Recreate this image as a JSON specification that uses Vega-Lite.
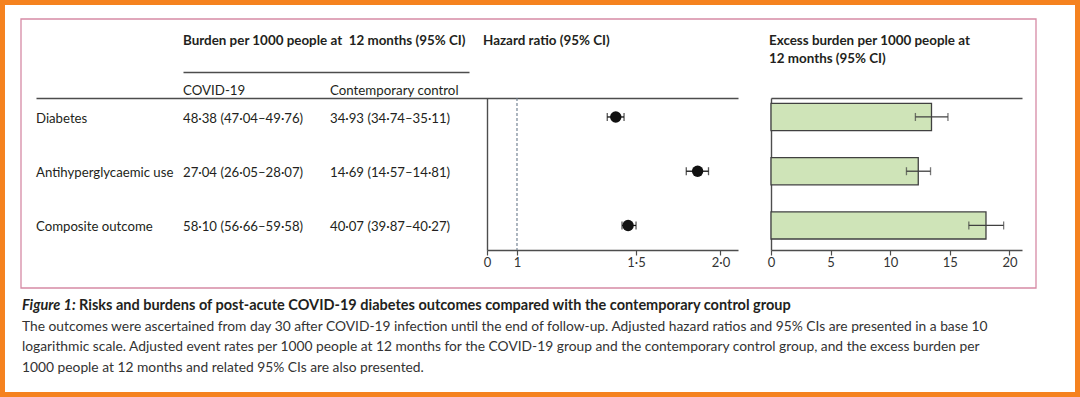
{
  "$schema": "https://vega.github.io/schema/vega-lite/v6.json",
  "width": 1080,
  "height": 397,
  "autosize": {"type": "none"},
  "padding": 0,
  "background": "white",
  "config": {
    "view": {"stroke": "#F5821F", "strokeWidth": 10, "fill": "white"},
    "font": "Lato",
    "text": {"font": "Lato", "color": "#231f20", "baseline": "alphabetic", "align": "left"},
    "axis": {"title": null, "grid": false, "domainColor": "#4d4d4d", "domainWidth": 1.4, "tickColor": "#4d4d4d", "tickWidth": 1.2, "tickSize": 5, "labelFont": "Lato", "labelFontSize": 13, "labelColor": "#333333", "labelFlush": false, "labelOverlap": false, "labelPadding": 1}
  },
  "datasets": {
    "outcomes": [
      {"outcome": "Diabetes", "covid": "48·38 (47·04–49·76)", "control": "34·93 (34·74–35·11)", "hr": 1.40, "hr_lo": 1.36, "hr_hi": 1.44, "excess": 13.46, "ex_lo": 12.11, "ex_hi": 14.84},
      {"outcome": "Antihyperglycaemic use", "covid": "27·04 (26·05–28·07)", "control": "14·69 (14·57–14·81)", "hr": 1.85, "hr_lo": 1.78, "hr_hi": 1.92, "excess": 12.35, "ex_lo": 11.36, "ex_hi": 13.38},
      {"outcome": "Composite outcome", "covid": "58·10 (56·66–59·58)", "control": "40·07 (39·87–40·27)", "hr": 1.46, "hr_lo": 1.43, "hr_hi": 1.50, "excess": 18.03, "ex_lo": 16.59, "ex_hi": 19.51}
    ]
  },
  "layer": [
    {
      "data": {"values": [{"frame": "figure"}]},
      "mark": {"type": "rect", "fillOpacity": 0, "stroke": "#D68AA5", "strokeWidth": 1.3},
      "encoding": {
        "x": {"datum": 0, "type": "quantitative", "scale": {"domain": [0, 1], "range": [21, 1036]}, "axis": null},
        "x2": {"datum": 1},
        "y": {"datum": 0, "type": "quantitative", "scale": {"domain": [0, 1], "range": [19, 288]}, "axis": null},
        "y2": {"datum": 1}
      }
    },
    {
      "data": {"name": "outcomes"},
      "transform": [{"fold": ["outcome"], "as": ["column", "text"]}],
      "mark": {"type": "text", "fontSize": 13.2, "dy": 6},
      "encoding": {
        "x": {"field": "column", "type": "nominal", "bandPosition": 0,
              "scale": {"type": "band", "domain": ["outcome"], "range": [36, 738], "paddingInner": 0, "paddingOuter": 0, "align": 0},
              "axis": {"orient": "top", "offset": -98, "ticks": false, "labels": false, "domain": true}},
        "y": {"field": "outcome", "type": "nominal",
              "scale": {"type": "band", "domain": ["Diabetes", "Antihyperglycaemic use", "Composite outcome"], "range": [98, 250], "paddingInner": 0.5, "paddingOuter": 0.151, "align": 0.33},
              "axis": null},
        "text": {"field": "text"}
      }
    },
    {
      "data": {"name": "outcomes"},
      "transform": [{"fold": ["covid", "control"], "as": ["column", "text"]}],
      "mark": {"type": "text", "fontSize": 13.2, "dy": 6},
      "encoding": {
        "x": {"field": "column", "type": "nominal", "bandPosition": 0,
              "scale": {"type": "band", "domain": ["covid", "control"], "range": [183, 469], "paddingInner": 0.0544, "paddingOuter": 0, "align": 0},
              "axis": null},
        "y": {"field": "outcome", "type": "nominal",
              "scale": {"type": "band", "domain": ["Diabetes", "Antihyperglycaemic use", "Composite outcome"], "range": [98, 250], "paddingInner": 0.5, "paddingOuter": 0.151, "align": 0.33},
              "axis": null},
        "text": {"field": "text"}
      }
    },
    {
      "data": {"values": [{"column": "covid", "line": "sub", "text": "COVID-19"}, {"column": "control", "line": "sub", "text": "Contemporary control"}]},
      "mark": {"type": "text", "fontSize": 13.3},
      "encoding": {
        "x": {"field": "column", "type": "nominal", "bandPosition": 0,
              "scale": {"type": "band", "domain": ["covid", "control"], "range": [183, 469], "paddingInner": 0.0544, "paddingOuter": 0, "align": 0},
              "axis": {"orient": "top", "offset": -72, "ticks": false, "labels": false, "domain": true}},
        "y": {"field": "line", "type": "nominal", "scale": {"type": "point", "domain": ["head", "sub"], "range": [45, 94.5], "padding": 0}, "axis": null},
        "text": {"field": "text"}
      }
    },
    {
      "data": {"values": [{"column": "covid", "line": "head", "text": "Burden per 1000 people at\u00a0 12 months (95% CI)"}]},
      "mark": {"type": "text", "fontSize": 13.4, "fontWeight": "bold"},
      "encoding": {
        "x": {"field": "column", "type": "nominal", "bandPosition": 0,
              "scale": {"type": "band", "domain": ["covid", "control"], "range": [183, 469], "paddingInner": 0.0544, "paddingOuter": 0, "align": 0},
              "axis": null},
        "y": {"field": "line", "type": "nominal", "scale": {"type": "point", "domain": ["head", "sub"], "range": [45, 94.5], "padding": 0}, "axis": null},
        "text": {"field": "text"}
      }
    },
    {
      "data": {"values": [{"panel": "hr", "line": "head", "text": "Hazard ratio (95% CI)"}, {"panel": "excess", "line": "head", "text": "Excess burden per 1000 people at\n12 months (95% CI)"}]},
      "mark": {"type": "text", "fontSize": 13.4, "fontWeight": "bold", "lineBreak": "\n", "lineHeight": 18},
      "encoding": {
        "x": {"field": "panel", "type": "nominal", "scale": {"type": "point", "domain": ["hr", "excess"], "range": [483, 769], "padding": 0}, "axis": null},
        "y": {"field": "line", "type": "nominal", "scale": {"type": "point", "domain": ["head", "sub"], "range": [45, 94.5], "padding": 0}, "axis": null},
        "text": {"field": "text"}
      }
    },
    {
      "data": {"values": [{"reference": "no effect"}]},
      "mark": {"type": "rule", "color": "#6a7b8c", "strokeWidth": 1.1, "strokeDash": [3, 2]},
      "encoding": {
        "x": {"datum": 1, "type": "quantitative", "scale": {"type": "log", "domain": [0.9029, 2.1229], "range": [487, 738], "nice": false}, "axis": null},
        "y": {"datum": 0, "type": "quantitative", "scale": {"domain": [0, 1], "range": [98, 250]}, "axis": null},
        "y2": {"datum": 1}
      }
    },
    {
      "data": {"name": "outcomes"},
      "mark": {"type": "rule", "color": "#111111", "strokeWidth": 1.3},
      "encoding": {
        "x": {"field": "hr_lo", "type": "quantitative", "scale": {"type": "log", "domain": [0.9029, 2.1229], "range": [487, 738], "nice": false}, "axis": null},
        "x2": {"field": "hr_hi"},
        "y": {"field": "outcome", "type": "nominal",
              "scale": {"type": "band", "domain": ["Diabetes", "Antihyperglycaemic use", "Composite outcome"], "range": [98, 250], "paddingInner": 0.5, "paddingOuter": 0.151, "align": 0.33},
              "axis": null}
      }
    },
    {
      "data": {"name": "outcomes"},
      "transform": [{"fold": ["hr_lo", "hr_hi"], "as": ["bound", "value"]}],
      "mark": {"type": "tick", "color": "#111111", "thickness": 1.3, "size": 8},
      "encoding": {
        "x": {"field": "value", "type": "quantitative", "scale": {"type": "log", "domain": [0.9029, 2.1229], "range": [487, 738], "nice": false}, "axis": null},
        "y": {"field": "outcome", "type": "nominal",
              "scale": {"type": "band", "domain": ["Diabetes", "Antihyperglycaemic use", "Composite outcome"], "range": [98, 250], "paddingInner": 0.5, "paddingOuter": 0.151, "align": 0.33},
              "axis": null}
      }
    },
    {
      "data": {"name": "outcomes"},
      "mark": {"type": "circle", "color": "#111111", "opacity": 1, "size": 130},
      "encoding": {
        "x": {"field": "hr", "type": "quantitative", "scale": {"type": "log", "domain": [0.9029, 2.1229], "range": [487, 738], "nice": false},
              "axis": {"orient": "bottom", "offset": -147, "values": [0.9029, 1, 1.5, 2], "labelExpr": "datum.value < 0.95 ? '0' : (datum.value == 1 ? '1' : replace(format(datum.value, '.1f'), '.', '·'))"}},
        "y": {"field": "outcome", "type": "nominal",
              "scale": {"type": "band", "domain": ["Diabetes", "Antihyperglycaemic use", "Composite outcome"], "range": [98, 250], "paddingInner": 0.5, "paddingOuter": 0.151, "align": 0.33},
              "axis": {"orient": "left", "offset": -487, "ticks": false, "labels": false, "domain": true}}
      }
    },
    {
      "data": {"name": "outcomes"},
      "mark": {"type": "bar", "fill": "#CFE4B8", "stroke": "#404040", "strokeWidth": 1.3},
      "encoding": {
        "x": {"field": "excess", "type": "quantitative", "scale": {"domain": [0, 21.05], "range": [771, 1022], "nice": false, "zero": true},
              "axis": {"orient": "bottom", "offset": -147, "values": [0, 5, 10, 15, 20]}},
        "y": {"field": "outcome", "type": "nominal",
              "scale": {"type": "band", "domain": ["Diabetes", "Antihyperglycaemic use", "Composite outcome"], "range": [98, 250], "paddingInner": 0.5, "paddingOuter": 0.151, "align": 0.33},
              "axis": {"orient": "left", "offset": -771, "ticks": false, "labels": false, "domain": true}}
      }
    },
    {
      "data": {"name": "outcomes"},
      "mark": {"type": "rule", "color": "#404040", "strokeWidth": 1.3},
      "encoding": {
        "x": {"field": "ex_lo", "type": "quantitative", "scale": {"domain": [0, 21.05], "range": [771, 1022], "nice": false, "zero": true},
              "axis": {"orient": "top", "offset": -98, "ticks": false, "labels": false, "domain": true}},
        "x2": {"field": "ex_hi"},
        "y": {"field": "outcome", "type": "nominal",
              "scale": {"type": "band", "domain": ["Diabetes", "Antihyperglycaemic use", "Composite outcome"], "range": [98, 250], "paddingInner": 0.5, "paddingOuter": 0.151, "align": 0.33},
              "axis": null}
      }
    },
    {
      "data": {"name": "outcomes"},
      "transform": [{"fold": ["ex_lo", "ex_hi"], "as": ["bound", "value"]}],
      "mark": {"type": "tick", "color": "#404040", "thickness": 1.3, "size": 8},
      "encoding": {
        "x": {"field": "value", "type": "quantitative", "scale": {"domain": [0, 21.05], "range": [771, 1022], "nice": false, "zero": true}, "axis": null},
        "y": {"field": "outcome", "type": "nominal",
              "scale": {"type": "band", "domain": ["Diabetes", "Antihyperglycaemic use", "Composite outcome"], "range": [98, 250], "paddingInner": 0.5, "paddingOuter": 0.151, "align": 0.33},
              "axis": null}
      }
    },
    {
      "data": {"values": [{"indent": "start", "line": "l1", "text": "Figure 1:"}]},
      "mark": {"type": "text", "fontSize": 14.5, "fontWeight": "bold", "fontStyle": "italic"},
      "encoding": {
        "x": {"field": "indent", "type": "nominal", "scale": {"type": "point", "domain": ["start", "after"], "range": [22, 79], "padding": 0}, "axis": null},
        "y": {"field": "line", "type": "nominal", "scale": {"type": "point", "domain": ["l1", "l2", "l3", "l4"], "range": [310, 372], "padding": 0}, "axis": null},
        "text": {"field": "text"}
      }
    },
    {
      "data": {"values": [{"indent": "after", "line": "l1", "text": "Risks and burdens of post-acute COVID-19 diabetes outcomes compared with the contemporary control group"}]},
      "mark": {"type": "text", "fontSize": 14.5, "fontWeight": "bold"},
      "encoding": {
        "x": {"field": "indent", "type": "nominal", "scale": {"type": "point", "domain": ["start", "after"], "range": [22, 79], "padding": 0}, "axis": null},
        "y": {"field": "line", "type": "nominal", "scale": {"type": "point", "domain": ["l1", "l2", "l3", "l4"], "range": [310, 372], "padding": 0}, "axis": null},
        "text": {"field": "text"}
      }
    },
    {
      "data": {"values": [
        {"indent": "start", "line": "l2", "text": "The outcomes were ascertained from day 30 after COVID-19 infection until the end of follow-up. Adjusted hazard ratios and 95% CIs are presented in a base 10"},
        {"indent": "start", "line": "l3", "text": "logarithmic scale. Adjusted event rates per 1000 people at 12 months for the COVID-19 group and the contemporary control group, and the excess burden per"},
        {"indent": "start", "line": "l4", "text": "1000 people at 12 months and related 95% CIs are also presented."}
      ]},
      "mark": {"type": "text", "fontSize": 13.8, "color": "#333333"},
      "encoding": {
        "x": {"field": "indent", "type": "nominal", "scale": {"type": "point", "domain": ["start", "after"], "range": [22, 79], "padding": 0}, "axis": null},
        "y": {"field": "line", "type": "nominal", "scale": {"type": "point", "domain": ["l1", "l2", "l3", "l4"], "range": [310, 372], "padding": 0}, "axis": null},
        "text": {"field": "text"}
      }
    }
  ],
  "resolve": {"scale": {"x": "independent", "y": "independent"}}
}
